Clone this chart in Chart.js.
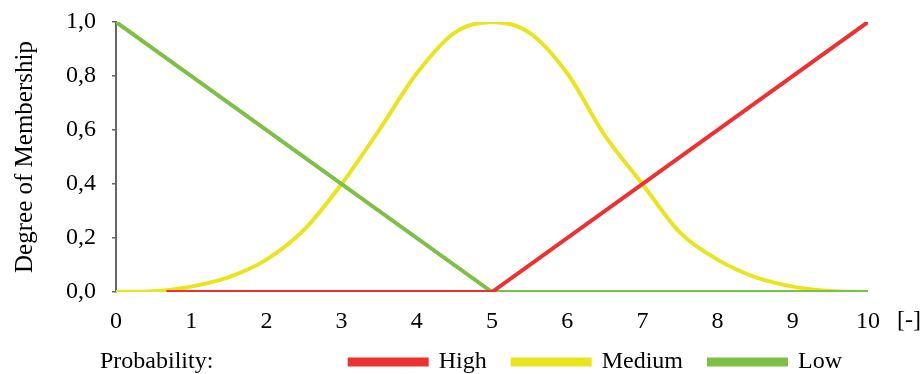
<!DOCTYPE html>
<html lang="en">
<head>
    <meta charset="UTF-8">
    <title>Degree of Membership</title>
    <script src="https://cdn.jsdelivr.net/npm/chart.js"></script>
    <style>
        html, body { margin: 0; padding: 0; background: #fff; }
        #box { width: 921px; height: 374px; }
    </style>
</head>
<body>
    <div id="box">
        <canvas id="grafico"></canvas>
    </div>

<script>
    // values
    const highX = [0.67, 5, 10];
    const highY = [0, 0, 1];

    const mediumX = [0, 0.5, 1, 1.5, 2, 2.5, 3, 3.5, 4, 4.5, 5, 5.5, 6, 6.5, 7, 7.5, 8, 8.5, 9, 9.5, 10];
    const mediumY = [0, 0.003, 0.02, 0.055, 0.12, 0.23, 0.40, 0.60, 0.81, 0.96, 1.0, 0.96, 0.81, 0.58, 0.40, 0.22, 0.12, 0.055, 0.02, 0.004, 0];

    const lowX = [0, 5, 10];
    const lowY = [1, 0, 0];

    const legendNames = ['High', 'Medium', 'Low'];
    const xTicks = [0, 10, 1];      // min, max, step
    const yTicks = [0, 1, 0.2];

    function pares(xs, ys) {
        let pts = [];
        for (let i = 0; i < xs.length; i++) {
            pts.push({ x: xs[i], y: ys[i] });
        }
        return pts;
    }

    const serif = 'Liberation Serif';

    // texto extra: "Probability:" e a unidade "[-]"
    const textosExtra = {
        id: 'textosExtra',
        afterDraw(chart) {
            const ctx = chart.ctx;
            ctx.save();
            ctx.fillStyle = '#000';
            ctx.font = '24px "' + serif + '"';
            ctx.textBaseline = 'middle';
            ctx.textAlign = 'left';
            ctx.fillText('Probability:', 100, 362);
            ctx.fillText('[-]', chart.chartArea.right + 29, 321);
            ctx.restore();
        }
    };

    const dados = {
        datasets: [{
            label: legendNames[0],
            data: pares(highX, highY),
            borderColor: '#EE3130',
            backgroundColor: '#EE3130',
            borderWidth: 4,
            pointRadius: 0,
            tension: 0,
            order: 0
        }, {
            label: legendNames[1],
            data: pares(mediumX, mediumY),
            borderColor: '#EAE41E',
            backgroundColor: '#EAE41E',
            borderWidth: 4,
            pointRadius: 0,
            cubicInterpolationMode: 'monotone',
            order: 1
        }, {
            label: legendNames[2],
            data: pares(lowX, lowY),
            borderColor: '#7DC043',
            backgroundColor: '#7DC043',
            borderWidth: 4,
            pointRadius: 0,
            tension: 0,
            order: 0
        }]
    };

    const config = {
        type: 'line',
        data: dados,
        options: {
            responsive: true,
            maintainAspectRatio: false,
            animation: false,
            layout: { padding: { top: 22, right: 53, bottom: 0, left: 0 } },
            plugins: {
                tooltip: { enabled: false },
                legend: {
                    position: 'bottom',
                    align: 'end',
                    maxHeight: 38,
                    labels: {
                        boxWidth: 77,
                        boxHeight: 5,
                        padding: 14,
                        color: '#000',
                        font: { family: serif, size: 24 },
                        sort: (a, b) => a.datasetIndex - b.datasetIndex,
                        generateLabels: function (chart) {
                            let itens = Chart.defaults.plugins.legend.labels.generateLabels(chart);
                            // um pouco mais de espaço entre os itens
                            itens.forEach(function (it) { it.text = it.text + '  '; });
                            return itens;
                        }
                    }
                }
            },
            scales: {
                x: {
                    type: 'linear',
                    min: xTicks[0],
                    max: xTicks[1],
                    grid: { display: false, drawTicks: false },
                    border: { display: false },
                    ticks: {
                        stepSize: xTicks[2],
                        padding: 15,
                        color: '#000',
                        maxRotation: 0,
                        font: { family: serif, size: 24 }
                    },
                    afterFit: function (scale) { scale.height = 44; }
                },
                y: {
                    min: yTicks[0],
                    max: yTicks[1],
                    grid: {
                        drawOnChartArea: false,
                        drawTicks: true,
                        tickLength: 4,
                        color: '#666',
                        lineWidth: 1.5
                    },
                    border: { display: true, color: '#666', width: 2 },
                    ticks: {
                        stepSize: yTicks[2],
                        padding: 16,
                        color: '#000',
                        font: { family: serif, size: 24, lineHeight: 0.5 },
                        callback: function (v) { return v.toFixed(1).replace('.', ','); }
                    },
                    title: {
                        display: true,
                        text: 'Degree of Membership',
                        color: '#000',
                        font: { family: serif, size: 25 },
                        padding: { top: 10, bottom: 10 }
                    },
                    afterFit: function (scale) { scale.width = 116; }
                }
            }
        },
        plugins: [textosExtra]
    };

    let myChart = new Chart(document.getElementById('grafico'), config);
</script>
</body>
</html>
